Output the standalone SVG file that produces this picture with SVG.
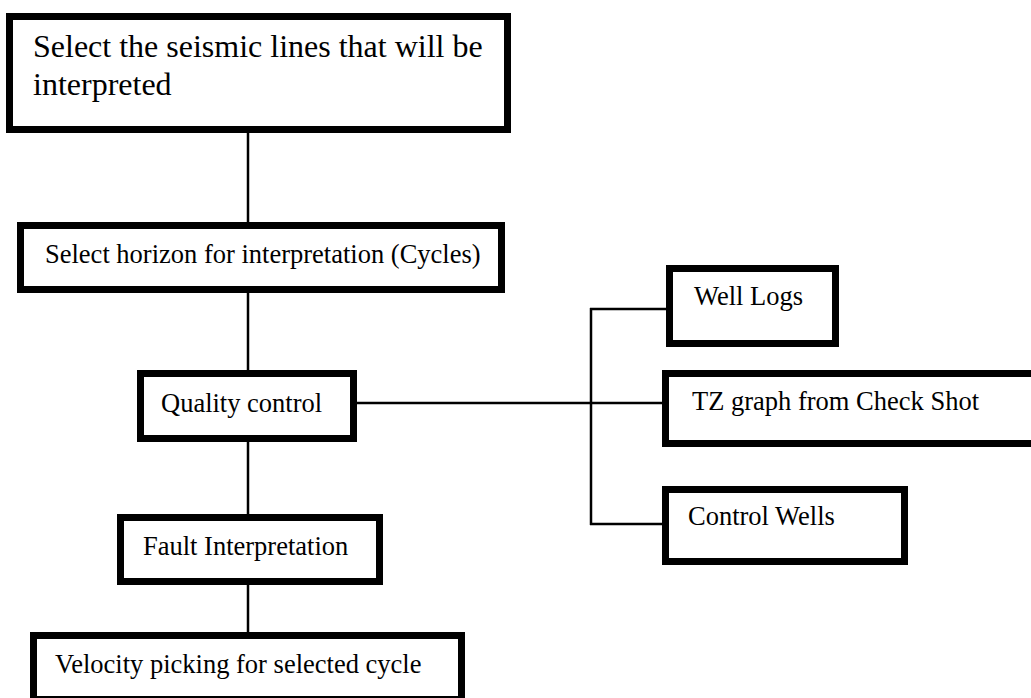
<svg xmlns="http://www.w3.org/2000/svg" width="1031" height="698" viewBox="0 0 1031 698">
  <style>
    .box { fill: #ffffff; stroke: #000000; stroke-width: 7; }
    .lbl { font-family: "Liberation Serif", "Times New Roman", serif; font-size: 26.5px; fill: #000000; }
    .big { font-size: 32px; }
    .conn { stroke: #000000; stroke-width: 2.5; fill: none; }
  </style>
  <rect width="1031" height="698" fill="#ffffff"/>
  <g id="connectors">
    <line class="conn" x1="248" y1="133" x2="248" y2="222"/>
    <line class="conn" x1="248" y1="293" x2="248" y2="370"/>
    <line class="conn" x1="248" y1="442" x2="248" y2="514"/>
    <line class="conn" x1="248" y1="585" x2="248" y2="632"/>
    <line class="conn" x1="357" y1="403" x2="662" y2="403"/>
    <line class="conn" x1="591" y1="308" x2="591" y2="525"/>
    <line class="conn" x1="590" y1="309" x2="666" y2="309"/>
    <line class="conn" x1="590" y1="524" x2="662" y2="524"/>
  </g>
  <g id="node-select-lines">
    <rect class="box" x="9.5" y="16.5" width="498" height="113"/>
    <text class="lbl big" x="33" y="57">Select the seismic lines that will be</text>
    <text class="lbl big" x="33" y="95">interpreted</text>
  </g>
  <g id="node-select-horizon">
    <rect class="box" x="20.5" y="225.5" width="481" height="64"/>
    <text class="lbl" x="45" y="263">Select horizon for interpretation (Cycles)</text>
  </g>
  <g id="node-quality-control">
    <rect class="box" x="140.5" y="373.5" width="213" height="65"/>
    <text class="lbl" x="161" y="412">Quality control</text>
  </g>
  <g id="node-fault">
    <rect class="box" x="120.5" y="517.5" width="259" height="64"/>
    <text class="lbl" x="143" y="555">Fault Interpretation</text>
  </g>
  <g id="node-velocity">
    <rect class="box" x="33.5" y="635.5" width="428" height="64"/>
    <text class="lbl" x="55" y="673">Velocity picking for selected cycle</text>
  </g>
  <g id="node-well-logs">
    <rect class="box" x="669.5" y="268.5" width="166" height="75"/>
    <text class="lbl" x="694" y="305">Well Logs</text>
  </g>
  <g id="node-tz-graph">
    <rect class="box" x="665.5" y="373.5" width="400" height="70"/>
    <text class="lbl" x="692" y="410">TZ graph from Check Shot</text>
  </g>
  <g id="node-control-wells">
    <rect class="box" x="665.5" y="489.5" width="239" height="72"/>
    <text class="lbl" x="688" y="525">Control Wells</text>
  </g>
</svg>
